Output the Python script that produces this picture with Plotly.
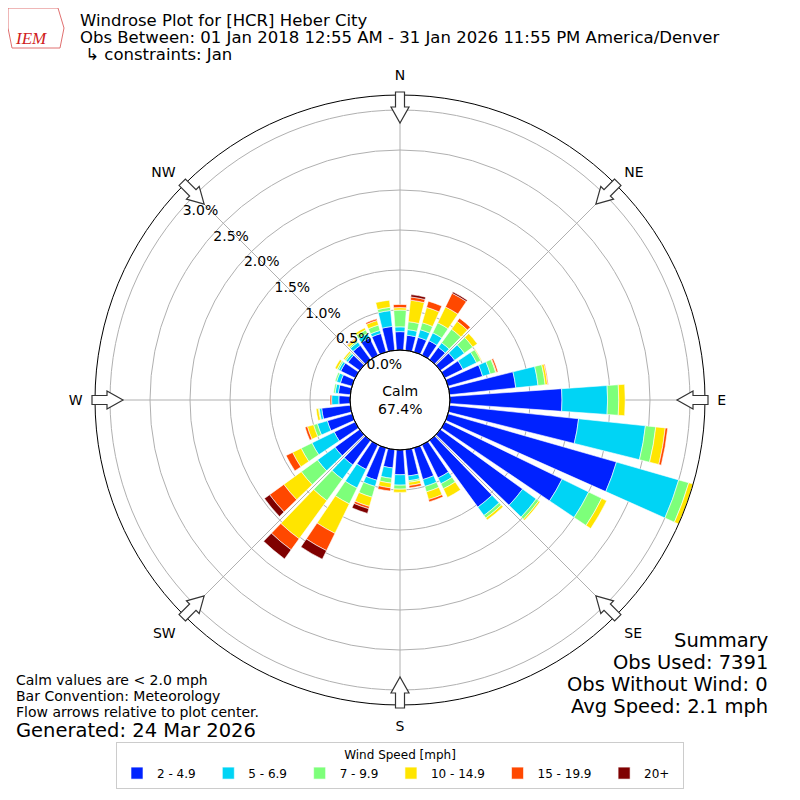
import numpy as np
import plotly.graph_objects as go

# ==============================
# DATOS (porcentaje de observaciones por sector y velocidad)
# ==============================

DIRECTIONS = list(range(0, 360, 10))

SPEED_BINS = ["2 - 4.9", "5 - 6.9", "7 - 9.9", "10 - 14.9", "15 - 19.9", "20+"]
BIN_COLORS = ["#0022ff", "#00d4f5", "#7dff7a", "#ffe500", "#ff4800", "#7f0000"]

PCT_2_5 = [0.23, 0.19, 0.19, 0.20, 0.19, 0.22, 0.25, 0.45, 0.83, 1.40, 1.62, 2.19,
           1.63, 1.27, 1.03, 0.46, 0.41, 0.33, 0.31, 0.23, 0.42, 0.34, 0.38, 0.38,
           0.29, 0.32, 0.36, 0.14, 0.15, 0.15, 0.20, 0.18, 0.22, 0.24, 0.24, 0.30]
PCT_5_7 = [0.06, 0.07, 0.10, 0.11, 0.07, 0.15, 0.19, 0.10, 0.28, 0.57, 0.84, 0.81,
           0.37, 0.21, 0.13, 0.08, 0.09, 0.06, 0.13, 0.13, 0.08, 0.26, 0.22, 0.27,
           0.31, 0.13, 0.03, 0.09, 0.04, 0.05, 0.03, 0.03, 0.05, 0.06, 0.04, 0.20]
PCT_7_10 = [0.21, 0.10, 0.09, 0.14, 0.21, 0.13, 0.06, 0.07, 0.09, 0.14, 0.13, 0.13,
            0.18, 0.04, 0.04, 0.07, 0.07, 0.02, 0.05, 0.06, 0.14, 0.22, 0.33, 0.25,
            0.15, 0.05, 0.01, 0.00, 0.02, 0.02, 0.02, 0.02, 0.02, 0.05, 0.07, 0.04]
PCT_10_15 = [0.03, 0.27, 0.20, 0.22, 0.12, 0.07, 0.01, 0.01, 0.03, 0.08, 0.12, 0.06,
             0.07, 0.02, 0.03, 0.12, 0.10, 0.04, 0.04, 0.06, 0.12, 0.41, 0.59, 0.27,
             0.12, 0.08, 0.03, 0.00, 0.00, 0.00, 0.03, 0.02, 0.03, 0.03, 0.06, 0.09]
PCT_15_20 = [0.04, 0.04, 0.08, 0.19, 0.05, 0.00, 0.00, 0.02, 0.01, 0.00, 0.03, 0.01,
             0.00, 0.00, 0.00, 0.00, 0.03, 0.03, 0.00, 0.04, 0.03, 0.24, 0.17, 0.22,
             0.09, 0.03, 0.00, 0.02, 0.00, 0.00, 0.00, 0.00, 0.01, 0.00, 0.02, 0.00]
PCT_20_UP = [0.00, 0.03, 0.00, 0.02, 0.00, 0.00, 0.00, 0.00, 0.00, 0.00, 0.00, 0.00,
             0.00, 0.00, 0.00, 0.00, 0.00, 0.00, 0.00, 0.00, 0.06, 0.12, 0.14, 0.08,
             0.00, 0.00, 0.00, 0.00, 0.00, 0.00, 0.00, 0.00, 0.00, 0.00, 0.00, 0.00]

SERIES = [PCT_2_5, PCT_5_7, PCT_7_10, PCT_10_15, PCT_15_20, PCT_20_UP]

RADIAL_TICKS = [0.0, 0.5, 1.0, 1.5, 2.0, 2.5, 3.0]
COMPASS_ANGLES = [0, 45, 90, 135, 180, 225, 270, 315]
COMPASS_LABELS = ["N", "NE", "E", "SE", "S", "SW", "W", "NW"]

CALM_PCT = 67.4
TITLE_LINES = [
    "Windrose Plot for [HCR] Heber City",
    "Obs Between: 01 Jan 2018 12:55 AM - 31 Jan 2026 11:55 PM America/Denver",
    " \u21b3 constraints: Jan",
]
SUMMARY_LINES = ["Summary", "Obs Used: 7391", "Obs Without Wind: 0", "Avg Speed: 2.1 mph"]
NOTE_LINES = ["Calm values are < 2.0 mph", "Bar Convention: Meteorology",
              "Flow arrows relative to plot center."]
GENERATED = "Generated: 24 Mar 2026"

# ==============================
# GEOMETRIA (pixeles de la imagen)
# ==============================

W = H = 800
SHIFT = 8          # margen del body de la pagina
CX, CY = 400, 400
R_OUT = 305
R_HOLE = 50
FONT = "DejaVu Sans"
NBSP = "\u00a0"
RLABEL_ANGLE = 140   # angulo (matematico) de las etiquetas radiales


def px(x):
    return (x - SHIFT) / W


def py(y):
    return 1 - (y - SHIFT) / H


def arrow_path(theta):
    # flecha hueca en el borde del circulo apuntando al centro
    t = np.radians(theta)
    ux, uy = np.sin(t), -np.cos(t)
    vx, vy = np.cos(t), np.sin(t)
    pts = [(308, -4.5), (293, -4.5), (293, -9), (277, 0), (293, 9), (293, 4.5), (308, 4.5)]
    coords = []
    for r, w in pts:
        x = CX + r * ux + w * vx
        y = CY + r * uy + w * vy
        coords.append(f"{px(x):.5f},{py(y):.5f}")
    return "M " + " L ".join(coords) + " Z"


fig = go.Figure()

for name, color, vals in zip(SPEED_BINS, BIN_COLORS, SERIES):
    fig.add_trace(go.Barpolar(
        r=vals,
        theta=DIRECTIONS,
        width=8,
        name=name + NBSP * 2,
        marker=dict(color=color, line=dict(color="white", width=0.6)),
    ))

fig.update_layout(
    width=W,
    height=H,
    margin=dict(l=0, r=0, t=0, b=0),
    paper_bgcolor="white",
    font=dict(family=FONT, color="black"),
    polar=dict(
        domain=dict(x=[px(CX - R_OUT), px(CX + R_OUT)], y=[py(CY + R_OUT), py(CY - R_OUT)]),
        hole=R_HOLE / R_OUT,
        bgcolor="white",
        barmode="stack",
        radialaxis=dict(
            range=[0, (R_OUT - R_HOLE) / 80],
            tickvals=RADIAL_TICKS,
            ticktext=[f"{v:.1f}%" for v in RADIAL_TICKS],
            angle=RLABEL_ANGLE,
            tickangle=RLABEL_ANGLE,
            side="clockwise",
            showline=False,
            ticks="",
            gridcolor="#b0b0b0",
            gridwidth=1,
            tickfont=dict(size=14, family=FONT),
        ),
        angularaxis=dict(
            rotation=90,
            direction="clockwise",
            tickvals=COMPASS_ANGLES,
            ticktext=COMPASS_LABELS,
            gridcolor="#b0b0b0",
            gridwidth=1,
            linecolor="black",
            linewidth=1,
            ticks="outside",
            ticklen=9,
            tickcolor="rgba(0,0,0,0)",
            tickfont=dict(size=14, family=FONT),
        ),
    ),
    legend=dict(
        orientation="h",
        x=px(400),
        xanchor="center",
        y=py(742),
        yanchor="top",
        bordercolor="#cccccc",
        borderwidth=1,
        font=dict(size=12, family=FONT),
        title=dict(text="Wind Speed [mph]", side="top center", font=dict(size=12, family=FONT)),
        traceorder="normal",
    ),
)

shapes = [dict(type="circle", xref="paper", yref="paper",
               x0=px(CX - R_HOLE), x1=px(CX + R_HOLE), y0=py(CY + R_HOLE), y1=py(CY - R_HOLE),
               line=dict(color="black", width=1))]
for ang in COMPASS_ANGLES:
    shapes.append(dict(type="path", xref="paper", yref="paper", path=arrow_path(ang),
                       fillcolor="white", line=dict(color="#333333", width=1.2)))

# logo IEM aproximado
shapes.append(dict(type="path", xref="paper", yref="paper",
                   path="M {} L {} L {} L {} L {} L {} Z".format(
                       *[f"{px(a):.4f},{py(b):.4f}" for a, b in
                         [(8, 8), (58, 8), (64, 28), (60, 48), (12, 48), (8, 28)]]),
                   line=dict(color="#e07070", width=1)))
fig.update_layout(shapes=shapes)

ann = []
for i, line in enumerate(TITLE_LINES):
    ann.append(dict(text=line, x=px(79), y=py(20 + 17.5 * i), xanchor="left", yanchor="middle",
                    borderpad=0, font=dict(size=16.5)))
ann.append(dict(text="IEM", x=px(31), y=py(39), xanchor="center", yanchor="middle",
                font=dict(size=17, family="Liberation Serif", color="#d02020", style="italic")))
ann.append(dict(text="Calm<br>%.1f%%" % CALM_PCT, x=px(CX), y=py(CY), xanchor="center",
                yanchor="middle", font=dict(size=14)))
for i, line in enumerate(SUMMARY_LINES):
    ann.append(dict(text=line, x=px(770), y=py(640 + 22 * i), xanchor="right", yanchor="middle",
                    font=dict(size=19.5)))
for i, line in enumerate(NOTE_LINES):
    ann.append(dict(text=line, x=px(14), y=py(680 + 16 * i), xanchor="left", yanchor="middle",
                    font=dict(size=14)))
ann.append(dict(text=GENERATED, x=px(14), y=py(730), xanchor="left", yanchor="middle",
                font=dict(size=19.5)))
for a in ann:
    a.update(xref="paper", yref="paper", showarrow=False)
fig.update_layout(annotations=ann)

fig.write_html("out.html")
